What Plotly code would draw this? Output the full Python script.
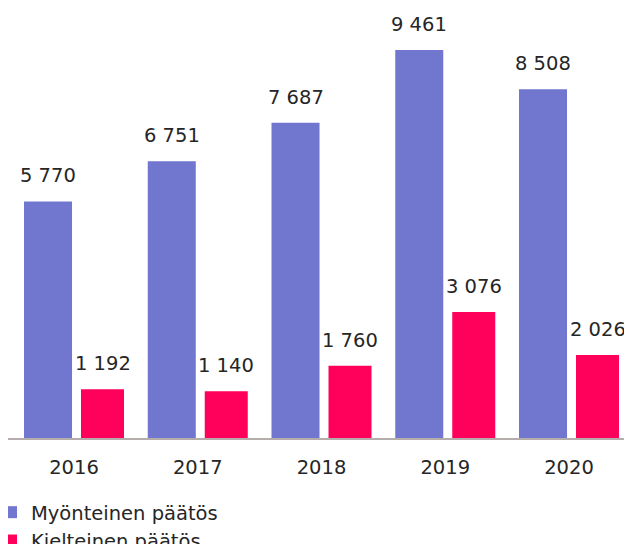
import plotly.graph_objects as go

years = ["2016", "2017", "2018", "2019", "2020"]
myonteinen = [5770, 6751, 7687, 9461, 8508]
kielteinen = [1192, 1140, 1760, 3076, 2026]
series_names = ["Myönteinen päätös", "Kielteinen päätös"]

BLUE = "#7176CE"
PINK = "#FF005A"
TEXT = "#262626"
FONT = "Verdana, DejaVu Sans, sans-serif"
FS = 19.5

# category unit geometry
blue_off, blue_w = -0.404, 0.388
pink_off, pink_w = 0.0566, 0.3475


def fmt(v):
    return f"{v:,}".replace(",", " ")


fig = go.Figure()
fig.add_trace(go.Bar(x=years, y=myonteinen, name=series_names[0], marker_color=BLUE,
                     offset=blue_off, width=blue_w, marker_line_width=0))
fig.add_trace(go.Bar(x=years, y=kielteinen, name=series_names[1], marker_color=PINK,
                     offset=pink_off, width=pink_w, marker_line_width=0))

annotations = []
for i, (a, b) in enumerate(zip(myonteinen, kielteinen)):
    annotations.append(dict(x=i + blue_off + blue_w / 2, y=a, xref="x", yref="y", text=fmt(a),
                            showarrow=False, yanchor="bottom", yshift=12,
                            font=dict(family=FONT, size=FS, color=TEXT)))
    annotations.append(dict(x=i + pink_off + pink_w / 2, y=b, xref="x", yref="y", text=fmt(b),
                            showarrow=False, yanchor="bottom", yshift=12,
                            font=dict(family=FONT, size=FS, color=TEXT)))

fig.update_layout(
    width=632, height=544,
    margin=dict(l=0, r=11, t=0, b=114, autoexpand=False),
    paper_bgcolor="white", plot_bgcolor="white",
    barmode="overlay",
    font=dict(family=FONT, size=FS, color=TEXT),
    annotations=annotations,
    showlegend=True,
    legend=dict(orientation="v", x=-17 / 621, xref="paper", xanchor="left",
                y=1 - 485 / 544, yref="container", yanchor="top",
                font=dict(family=FONT, size=FS, color=TEXT),
                bgcolor="rgba(0,0,0,0)", borderwidth=0, tracegroupgap=0,
                itemwidth=30),
    xaxis=dict(type="category", range=[-0.5333, 4.4848], showgrid=False, zeroline=False,
               showline=True, linecolor="#B5ADAB", linewidth=2, ticks="",
               ticklabelstandoff=11, automargin=False,
               tickfont=dict(family=FONT, size=FS, color=TEXT)),
    yaxis=dict(range=[0, 10488], visible=False, showgrid=False, zeroline=False, automargin=False),
)

fig.write_html("out.html")
